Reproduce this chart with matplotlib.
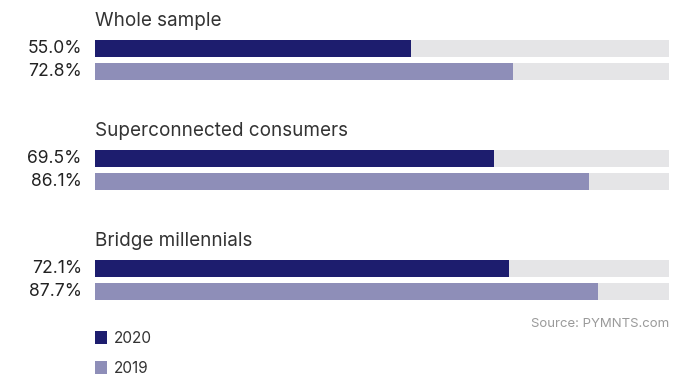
import matplotlib.pyplot as plt

plt.rcParams['font.family'] = ['Inter', 'DejaVu Sans']

groups = ["Whole sample", "Superconnected consumers", "Bridge millennials"]
share_2020 = [55.0, 69.5, 72.1]
share_2019 = [72.8, 86.1, 87.7]
years = ["2020", "2019"]

navy = "#1d1d6e"
lilac = "#8e8eb8"
track = "#e5e5e7"

fig = plt.figure(figsize=(7, 3.75), dpi=100)
# bar area runs from 95px to 669px horizontally; y measured in pixels from the top
ax = fig.add_axes([95 / 700, 0, 574 / 700, 1])
ax.set_xlim(0, 100)
ax.set_ylim(375, 0)
ax.axis("off")

bar_h = 17
for i, name in enumerate(groups):
    top = 20 + i * 110
    y1 = top + 28.5
    y2 = top + 51.5
    ax.barh([y1, y2], [100, 100], height=bar_h, color=track)
    ax.barh(y1, share_2020[i], height=bar_h, color=navy)
    ax.barh(y2, share_2019[i], height=bar_h, color=lilac)
    ax.text(0, top + 1.5, name, fontsize=13.6, color="#333333", va="center", ha="left")
    ax.text(-2.3, y1, f"{share_2020[i]:.1f}%", fontsize=12.6, color="#222222",
            va="center", ha="right")
    ax.text(-2.3, y2, f"{share_2019[i]:.1f}%", fontsize=12.6, color="#222222",
            va="center", ha="right")

# legend
sq = 12 / 574 * 100
for j, (lab, col) in enumerate(zip(years, [navy, lilac])):
    yc = 337.5 + j * 30
    ax.bar(0, 13, width=sq, bottom=yc - 6.5, align="edge", color=col)
    ax.text(19 / 574 * 100, yc + 1, lab, fontsize=11, color="#333333",
            va="center", ha="left")

ax.text(100, 324, "Source: PYMNTS.com", fontsize=9.5, color="#9a9a9a",
        va="center", ha="right")

fig.savefig("out.png", dpi=100)
